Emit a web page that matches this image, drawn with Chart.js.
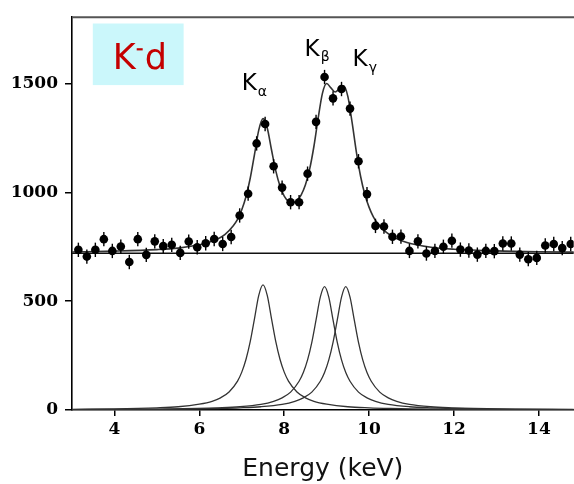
<!DOCTYPE html>
<html>
<head>
<meta charset="utf-8">
<script src="https://cdn.jsdelivr.net/npm/chart.js@4"></script>
<style>
  html, body { margin: 0; padding: 0; background: #fff; overflow: hidden; }
  canvas { display: block; }
</style>
</head>
<body>
<canvas id="spectrum" width="578" height="484"></canvas>
<script>
// measured spectrum (keV, counts per bin)
const energy = [3.15, 3.35, 3.55, 3.75, 3.95, 4.15, 4.35, 4.55, 4.75, 4.95,
                5.15, 5.35, 5.55, 5.75, 5.95, 6.15, 6.35, 6.55, 6.75, 6.95,
                7.15, 7.35, 7.55, 7.75, 7.95, 8.15, 8.35, 8.55, 8.75, 8.95,
                9.15, 9.35, 9.55, 9.75, 9.95, 10.15, 10.35, 10.55, 10.75, 10.95,
                11.15, 11.35, 11.55, 11.75, 11.95, 12.15, 12.35, 12.55, 12.75, 12.95,
                13.15, 13.35, 13.55, 13.75, 13.95, 14.15, 14.35, 14.55, 14.75];
const counts = [736, 705, 736, 785, 731, 751, 680, 785, 713, 775,
                753, 759, 722, 774, 748, 766, 786, 763, 795, 894,
                994, 1225, 1314, 1120, 1022, 955, 955, 1086, 1324, 1530,
                1432, 1475, 1385, 1143, 992, 846, 843, 796, 797, 731,
                775, 719, 731, 750, 778, 737, 733, 714, 731, 730,
                765, 765, 714, 693, 699, 756, 763, 744, 763];
const countError = 33;

// total fit curve
const fitE = [3, 4, 5, 5.5, 6, 6.2, 6.4, 6.6, 6.8, 6.9,
              7.0, 7.1, 7.2, 7.3, 7.4, 7.5, 7.6, 7.7, 7.8, 7.9,
              8.0, 8.1, 8.2, 8.3, 8.4, 8.5, 8.6, 8.7, 8.8, 8.9,
              9.0, 9.1, 9.2, 9.3, 9.4, 9.5, 9.6, 9.7, 9.8, 9.9,
              10.0, 10.1, 10.2, 10.4, 10.6, 10.8, 11.0, 11.5, 12, 13, 14, 15];
const fitCounts = [726, 730, 737, 744, 759, 769, 783, 806, 847, 876,
                   920, 981, 1066, 1175, 1286, 1339, 1296, 1196, 1100, 1029,
                   983, 959, 954, 962, 989, 1035, 1108, 1212, 1341, 1455,
                   1500, 1480, 1461, 1476, 1490, 1440, 1320, 1185, 1073, 990,
                   931, 888, 858, 817, 792, 775, 764, 747, 739, 731, 727, 725];
const background = 720;

// individual line components
const kAlphaE = [3, 4, 5, 5.5, 6, 6.3, 6.5, 6.7, 6.9, 7.0, 7.1, 7.2, 7.3, 7.4, 7.5, 7.6,
                 7.7, 7.8, 7.9, 8.0, 8.1, 8.3, 8.5, 8.7, 9.0, 9.5, 10, 10.5, 11, 12, 13, 15];
const kAlpha = [3, 5, 10, 15, 27, 40, 56, 83, 133, 174, 233, 315, 420, 527, 575, 527,
                420, 315, 233, 174, 133, 83, 56, 40, 27, 15, 10, 7, 5, 3, 2, 1];
const kBetaE = [3, 4, 5, 5.95, 6.45, 6.95, 7.45, 7.75, 7.95, 8.15, 8.35, 8.45, 8.55, 8.65, 8.75, 8.85,
                8.95, 9.05, 9.15, 9.25, 9.35, 9.45, 9.55, 9.75, 9.95, 10.15, 10.45, 10.95, 11.45, 11.95, 12.95, 15];
const kBeta = [2, 3, 4, 7, 10, 15, 26, 40, 56, 82, 132, 172, 230, 311, 414, 519,
               567, 519, 414, 311, 230, 172, 132, 82, 56, 40, 26, 15, 10, 7, 4, 2];
const kGammaE = [3, 4, 5, 6, 6.45, 6.95, 7.45, 7.95, 8.25, 8.45, 8.65, 8.85, 8.95, 9.05, 9.15, 9.25, 9.35,
                 9.45, 9.55, 9.65, 9.75, 9.85, 9.95, 10.05, 10.25, 10.45, 10.65, 10.95, 11.45, 11.95, 12.45, 13.45, 15];
const kGamma = [1, 2, 3, 5, 7, 10, 15, 26, 40, 56, 82, 132, 172, 230, 311, 414, 519,
                567, 519, 414, 311, 230, 172, 132, 82, 56, 40, 26, 15, 10, 7, 4, 2];

const xTicks = [4, 6, 8, 10, 12, 14];
const yTicks = [0, 500, 1000, 1500];
const peakNames = ["\u03b1", "\u03b2", "\u03b3"];

const pts = (xs, ys) => xs.map((v, i) => ({ x: v, y: ys[i] }));

const curve = (data, width) => ({
    type: "line",
    data: data,
    borderColor: "#333",
    borderWidth: width,
    pointRadius: 0,
    cubicInterpolationMode: "monotone",
    fill: false
});

const errorBars = {
    id: "errorBars",
    afterDatasetsDraw(chart) {
        const ctx = chart.ctx, sx = chart.scales.x, sy = chart.scales.y;
        ctx.save();
        ctx.strokeStyle = "#000";
        ctx.lineWidth = 1.4;
        energy.forEach((e, i) => {
            const px = sx.getPixelForValue(e);
            ctx.beginPath();
            ctx.moveTo(px, sy.getPixelForValue(counts[i] - countError));
            ctx.lineTo(px, sy.getPixelForValue(counts[i] + countError));
            ctx.stroke();
        });
        ctx.restore();
    }
};

const labels = {
    id: "labels",
    afterDraw(chart) {
        const ctx = chart.ctx, sx = chart.scales.x, sy = chart.scales.y;
        const area = chart.chartArea;
        ctx.save();

        // top frame line
        ctx.strokeStyle = "#555";
        ctx.lineWidth = 2;
        ctx.beginPath();
        ctx.moveTo(area.left, area.top);
        ctx.lineTo(chart.width, area.top);
        ctx.stroke();

        // K-d box
        const bx0 = sx.getPixelForValue(3.49), bx1 = sx.getPixelForValue(5.63);
        const by0 = sy.getPixelForValue(1776), by1 = sy.getPixelForValue(1493);
        ctx.fillStyle = "#cbf7fb";
        ctx.fillRect(bx0, by0, bx1 - bx0, by1 - by0);

        ctx.fillStyle = "#c40000";
        ctx.textBaseline = "alphabetic";
        ctx.textAlign = "left";
        ctx.font = "35px 'DejaVu Sans'";
        let tx = sx.getPixelForValue(3.96);
        const ty = sy.getPixelForValue(1566);
        ctx.fillText("K", tx, ty);
        tx += ctx.measureText("K").width + 1;
        ctx.fillRect(tx, ty - 21, 6, 2.2);
        tx += 8;
        ctx.fillText("d", tx, ty);

        // peak labels
        const anchors = [[7.0, 1470, 6], [8.48, 1629, 5], [9.61, 1579, 6]];
        ctx.fillStyle = "#000";
        anchors.forEach((a, i) => {
            const px = sx.getPixelForValue(a[0]);
            const py = sy.getPixelForValue(a[1]);
            ctx.font = "23px 'DejaVu Sans'";
            ctx.fillText("K", px, py);
            const w = ctx.measureText("K").width;
            ctx.font = "14px 'DejaVu Sans'";
            ctx.fillText(peakNames[i], px + w + 1, py + a[2]);
        });
        ctx.restore();
    }
};

const tickFont = { family: "'DejaVu Serif'", weight: "bold", size: 17 };

new Chart(document.getElementById("spectrum").getContext("2d"), {
    type: "line",
    data: {
        datasets: [
            {
                type: "line",
                data: pts(energy, counts),
                showLine: false,
                pointRadius: 4.3,
                pointBackgroundColor: "#000",
                pointBorderColor: "#000",
                pointBorderWidth: 0
            },
            curve(pts(fitE, fitCounts), 1.6),
            {
                type: "line",
                data: [{ x: 3, y: background }, { x: 15, y: background }],
                borderColor: "#111",
                borderWidth: 1.6,
                pointRadius: 0
            },
            curve(pts(kAlphaE, kAlpha), 1.3),
            curve(pts(kBetaE, kBeta), 1.3),
            curve(pts(kGammaE, kGamma), 1.3)
        ]
    },
    options: {
        responsive: false,
        animation: false,
        devicePixelRatio: 1,
        layout: { padding: { top: 14, right: 0, left: 0, bottom: 0 } },
        plugins: {
            legend: { display: false },
            tooltip: { enabled: false }
        },
        scales: {
            x: {
                type: "linear",
                min: 3,
                max: 14.82,
                afterBuildTicks: (s) => { s.ticks = xTicks.map(v => ({ value: v })); },
                afterFit: (s) => { s.height = 74; },
                grid: { drawOnChartArea: false, color: "#000", tickLength: 6, lineWidth: 1.5 },
                border: { color: "#000", width: 1.6 },
                ticks: { color: "#000", font: tickFont, padding: 3 },
                title: {
                    display: true,
                    text: "Energy (keV)",
                    color: "#111",
                    font: { family: "'DejaVu Sans'", size: 25, lineHeight: 1.2 },
                    padding: { top: 0, bottom: 0 }
                }
            },
            y: {
                min: 0,
                max: 1805,
                afterBuildTicks: (s) => { s.ticks = yTicks.map(v => ({ value: v })); },
                afterFit: (s) => { s.width = 72; },
                grid: { drawOnChartArea: false, color: "#000", tickLength: 7, lineWidth: 1.5 },
                border: { color: "#000", width: 1.6 },
                ticks: { color: "#000", font: tickFont, padding: 7, callback: (v) => String(v) }
            }
        }
    },
    plugins: [errorBars, labels]
});
</script>
</body>
</html>
